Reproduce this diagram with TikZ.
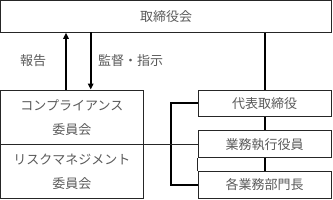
\documentclass[tikz,border=0pt]{standalone}
\usepackage{fontspec}
\setmainfont{Noto Sans CJK JP}
\usetikzlibrary{arrows.meta}
\definecolor{txt}{HTML}{595959}
\definecolor{edge}{HTML}{262626}
\begin{document}
\begin{tikzpicture}[x=1bp,y=-1bp,
  box/.style={draw=edge,line width=1bp,inner sep=0pt,text=txt,
    font=\fontsize{13bp}{24bp}\selectfont,align=center},
  thick line/.style={draw=black,line width=1.8bp},
  thin line/.style={draw=edge,line width=1bp},
  arr/.style={thick line,-{Triangle[length=6bp,width=5.5bp]}},
  lbl/.style={text=txt,font=\fontsize{13bp}{15bp}\selectfont,inner sep=0pt}]
\useasboundingbox (0,0) rectangle (333,200);
\node[box,minimum width=331bp,minimum height=31.8bp] (top) at (166,16.4) {取締役会};
\node[box,minimum width=142.8bp,minimum height=54.3bp] (comp) at (71.9,117.15) {コンプライアンス\\委員会};
\node[box,minimum width=142.8bp,minimum height=54.2bp] (risk) at (71.9,171.4) {リスクマネジメント\\委員会};
\node[box,minimum width=132.7bp,minimum height=26.7bp] (ceo) at (264.65,103.35) {代表取締役};
\node[box,minimum width=132.7bp,minimum height=27bp] (exec) at (264.65,144.2) {業務執行役員};
\node[box,minimum width=132.7bp,minimum height=27.3bp] (dept) at (264.65,184.65) {各業務部門長};
% arrows
\coordinate (up) at (66,90);
\coordinate (dn) at (90.7,32.3);
\draw[arr] (up) -- (up |- top.south);
\draw[arr] (dn) -- (dn |- comp.north);
\node[lbl] (rep) at (33,61) {報告};
\node[lbl] (sup) at (130.5,61) {監督・指示};
% right column connectors
\draw[thick line] (top.south -| ceo.north) -- (ceo.north);
\draw[thick line] (ceo.south) -- (exec.north);
\draw[thick line] (exec.south) -- (dept.north);
\draw[thin line] (exec.south west) -- (dept.north west);
% bracket
\coordinate (bx) at (170.7,0);
\draw[thick line] (ceo.west) -- (ceo.west -| bx) -- (dept.west -| bx) -- (dept.west);
\draw[thin line] (comp.south east) -- (exec.west |- comp.south);
\end{tikzpicture}
\end{document}
